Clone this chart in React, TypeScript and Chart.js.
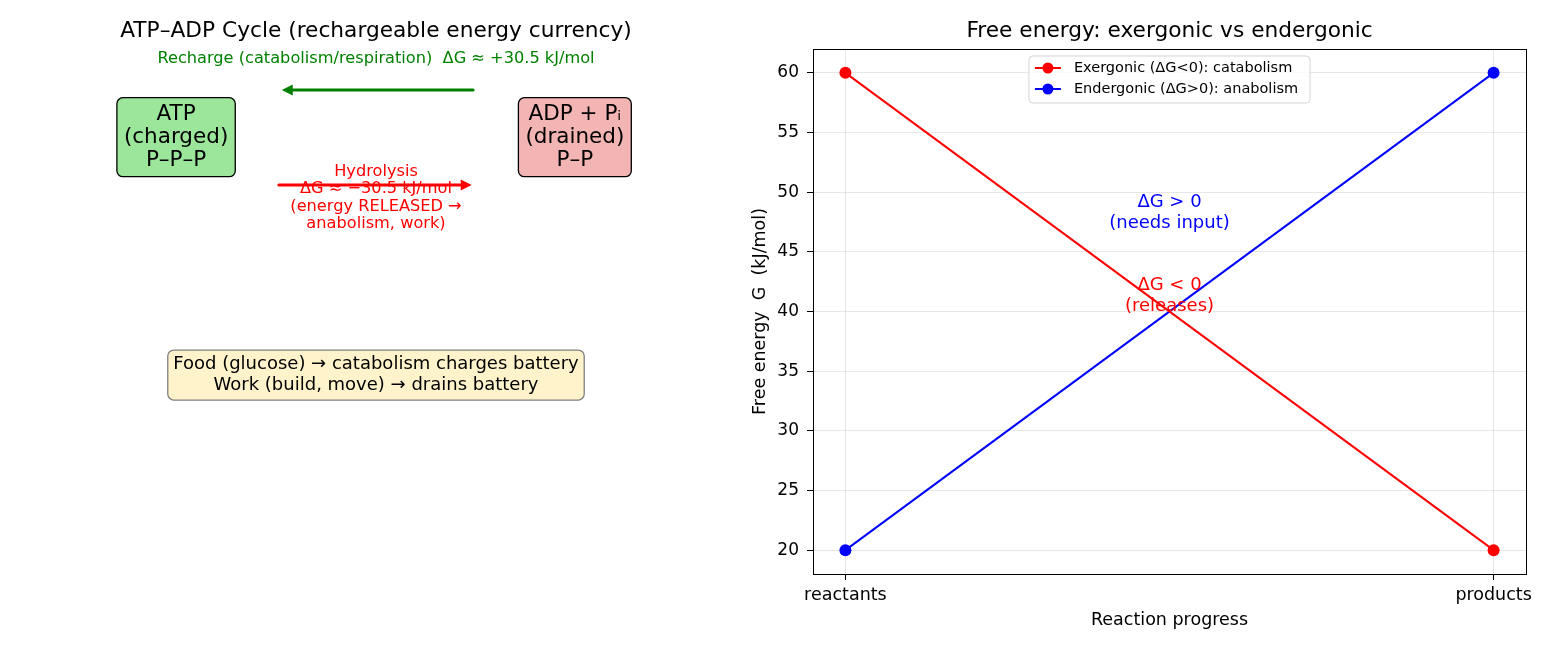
import React, { useEffect, useRef } from "react";
import { Chart, registerables } from "chart.js";

Chart.register(...registerables);

// ---------- data ----------
const stages = ["reactants", "products"];
const stagePositions = [0, 1];
const exergonicG = [60, 20];
const endergonicG = [20, 60];
const yTickValues = [20, 25, 30, 35, 40, 45, 50, 55, 60];
const seriesLabels = ["Exergonic (ΔG<0): catabolism", "Endergonic (ΔG>0): anabolism"];
const seriesColors = ["#ff0000", "#0000ff"];
const noteUp = ["ΔG > 0", "(needs input)"];
const noteDown = ["ΔG < 0", "(releases)"];
const noteUpAt = { x: 0.5, y: 48.3 };
const noteDownAt = { x: 0.5, y: 41.3 };

const FONT = "'DejaVu Sans', 'Liberation Sans', sans-serif";
const f = (s: number) => `${s}px ${FONT}`;

function roundRectPath(ctx: CanvasRenderingContext2D, x: number, y: number, w: number, h: number, r: number) {
  ctx.beginPath();
  ctx.moveTo(x + r, y);
  ctx.lineTo(x + w - r, y);
  ctx.arcTo(x + w, y, x + w, y + r, r);
  ctx.lineTo(x + w, y + h - r);
  ctx.arcTo(x + w, y + h, x + w - r, y + h, r);
  ctx.lineTo(x + r, y + h);
  ctx.arcTo(x, y + h, x, y + h - r, r);
  ctx.lineTo(x, y + r);
  ctx.arcTo(x, y, x + r, y, r);
  ctx.closePath();
}

function textBox(
  ctx: CanvasRenderingContext2D,
  cx: number,
  cy: number,
  lines: string[],
  size: number,
  lineH: number,
  padX: number,
  padY: number,
  fill: string,
  edge: string,
  edgeW: number
) {
  ctx.font = f(size);
  const w = Math.max(...lines.map((l) => ctx.measureText(l).width)) + padX * 2;
  const h = lines.length * lineH + padY * 2;
  roundRectPath(ctx, cx - w / 2, cy - h / 2, w, h, 6);
  ctx.fillStyle = fill;
  ctx.fill();
  ctx.lineWidth = edgeW;
  ctx.strokeStyle = edge;
  ctx.stroke();
  ctx.fillStyle = "#000";
  ctx.textAlign = "center";
  ctx.textBaseline = "middle";
  lines.forEach((l, i) => {
    ctx.fillText(l, cx, cy - ((lines.length - 1) * lineH) / 2 + i * lineH);
  });
}

function arrow(ctx: CanvasRenderingContext2D, x0: number, y0: number, x1: number, y1: number, color: string) {
  const dx = x1 - x0, dy = y1 - y0;
  const len = Math.hypot(dx, dy);
  const ux = dx / len, uy = dy / len;
  const hl = 11, hw = 5.5;
  ctx.strokeStyle = color;
  ctx.fillStyle = color;
  ctx.lineWidth = 3;
  ctx.lineCap = "round";
  ctx.beginPath();
  ctx.moveTo(x0, y0);
  ctx.lineTo(x1 - ux * hl, y1 - uy * hl);
  ctx.stroke();
  ctx.beginPath();
  ctx.moveTo(x1, y1);
  ctx.lineTo(x1 - ux * hl - uy * hw, y1 - uy * hl + ux * hw);
  ctx.lineTo(x1 - ux * hl + uy * hw, y1 - uy * hl - ux * hw);
  ctx.closePath();
  ctx.fill();
}

const diagramPlugin = {
  id: "atpDiagram",
  afterDraw(chart: any) {
    const ctx: CanvasRenderingContext2D = chart.ctx;
    const xs = chart.scales.x, ys = chart.scales.y;
    const px = (v: number) => xs.getPixelForValue(v);
    const py = (v: number) => ys.getPixelForValue(v);
    const ca = chart.chartArea;
    ctx.save();
    // title
    ctx.fillStyle = "#000";
    ctx.font = f(21.7);
    ctx.textAlign = "center";
    ctx.textBaseline = "middle";
    ctx.fillText("ATP–ADP Cycle (rechargeable energy currency)", (ca.left + ca.right) / 2, 31);

    // recharge label + arrow
    ctx.font = f(16.2);
    ctx.fillStyle = "#008000";
    ctx.fillText("Recharge (catabolism/respiration)  ΔG ≈ +30.5 kJ/mol", px(0.5), py(0.981));
    arrow(ctx, px(0.636), py(0.922), px(0.368), py(0.922), "#008000");

    // hydrolysis arrow + label
    arrow(ctx, px(0.364), py(0.741), px(0.634), py(0.741), "#ff0000");
    ctx.font = f(16.2);
    ctx.fillStyle = "#ff0000";
    ctx.textAlign = "center";
    ctx.textBaseline = "middle";
    const red = ["Hydrolysis", "ΔG ≈ −30.5 kJ/mol", "(energy RELEASED →", "anabolism, work)"];
    const rc = py(0.717);
    red.forEach((l, i) => ctx.fillText(l, px(0.5), rc - 1.5 * 17.5 + i * 17.5));

    // boxes
    textBox(ctx, px(0.22), py(0.832), ["ATP", "(charged)", "P–P–P"], 21.5, 23, 7, 5, "#9ce69c", "#000", 1.3);
    textBox(ctx, px(0.7785), py(0.832), ["ADP + Pᵢ", "(drained)", "P–P"], 21.5, 23, 7, 5, "#f3b4b4", "#000", 1.3);
    textBox(
      ctx,
      px(0.5),
      py(0.379),
      ["Food (glucose) → catabolism charges battery", "Work (build, move) → drains battery"],
      18,
      21,
      5.5,
      4,
      "#fff3cc",
      "#808080",
      1.3
    );
    ctx.restore();
  },
};

const frameTitlePlugin = {
  id: "mplFrame",
  afterDatasetsDraw(chart: any) {
    const ctx: CanvasRenderingContext2D = chart.ctx;
    const ca = chart.chartArea;
    const xs = chart.scales.x, ys = chart.scales.y;
    ctx.save();
    // annotations
    ctx.font = f(18);
    ctx.textAlign = "center";
    ctx.textBaseline = "middle";
    const drawNote = (lines: string[], at: { x: number; y: number }, color: string) => {
      ctx.fillStyle = color;
      const cx = xs.getPixelForValue(at.x), cy = ys.getPixelForValue(at.y);
      lines.forEach((l, i) => ctx.fillText(l, cx, cy - ((lines.length - 1) * 21) / 2 + i * 21));
    };
    drawNote(noteUp, noteUpAt, "#0000ff");
    drawNote(noteDown, noteDownAt, "#ff0000");

    // frame
    ctx.strokeStyle = "#000";
    ctx.lineWidth = 1;
    ctx.strokeRect(Math.round(ca.left) + 0.5, Math.round(ca.top) + 0.5, Math.round(ca.right - ca.left), Math.round(ca.bottom - ca.top));

    // title
    ctx.fillStyle = "#000";
    ctx.font = f(21.7);
    ctx.fillText("Free energy: exergonic vs endergonic", (ca.left + ca.right) / 2, 31);

    // legend
    const ds = chart.data.datasets;
    ctx.font = f(14.5);
    const textW = Math.max(...ds.map((d: any) => ctx.measureText(d.label).width));
    const bw = 45 + textW + 12;
    const bh = 47;
    const bx = (ca.left + ca.right) / 2 - bw / 2;
    const by = ca.top + 7;
    roundRectPath(ctx, bx, by, bw, bh, 4);
    ctx.fillStyle = "rgba(255,255,255,0.8)";
    ctx.fill();
    ctx.strokeStyle = "#d5d5d5";
    ctx.lineWidth = 1;
    ctx.stroke();
    ds.forEach((d: any, i: number) => {
      const ry = by + 12 + i * 21;
      ctx.strokeStyle = d.borderColor;
      ctx.lineWidth = 2;
      ctx.beginPath();
      ctx.moveTo(bx + 6, ry);
      ctx.lineTo(bx + 32, ry);
      ctx.stroke();
      ctx.fillStyle = d.borderColor;
      ctx.beginPath();
      ctx.arc(bx + 19, ry, 5.5, 0, Math.PI * 2);
      ctx.fill();
      ctx.fillStyle = "#000";
      ctx.textAlign = "left";
      ctx.fillText(d.label, bx + 45, ry);
    });
    ctx.restore();
  },
};

export default function App() {
  const leftRef = useRef<HTMLCanvasElement>(null);
  const rightRef = useRef<HTMLCanvasElement>(null);

  useEffect(() => {
    Chart.defaults.font.family = FONT;
    const left = new Chart(leftRef.current!, {
      type: "scatter",
      data: { datasets: [] },
      options: {
        animation: false,
        responsive: false,
        devicePixelRatio: 1,
        layout: { padding: { left: 19, right: 7, top: 49, bottom: 76 } },
        scales: {
          x: { type: "linear", min: 0, max: 1, display: false },
          y: { type: "linear", min: 0, max: 1, display: false },
        },
        plugins: { legend: { display: false }, tooltip: { enabled: false } },
      },
      plugins: [diagramPlugin],
    } as any);

    const grid = {
      color: "rgba(176,176,176,0.3)",
      tickColor: "#000",
      tickLength: 6,
      drawTicks: true,
      lineWidth: 1,
    };
    const right = new Chart(rightRef.current!, {
      type: "line",
      data: {
        datasets: [exergonicG, endergonicG].map((vals, i) => ({
          label: seriesLabels[i],
          data: stagePositions.map((x, j) => ({ x, y: vals[j] })),
          borderColor: seriesColors[i],
          backgroundColor: seriesColors[i],
          pointBackgroundColor: seriesColors[i],
          pointBorderColor: seriesColors[i],
          borderWidth: 2,
          pointRadius: 6,
          pointBorderWidth: 0,
          tension: 0,
        })),
      },
      options: {
        animation: false,
        responsive: false,
        devicePixelRatio: 1,
        layout: { padding: { left: 0, right: 34, top: 49, bottom: 0 } },
        scales: {
          x: {
            type: "linear",
            min: -0.05,
            max: 1.05,
            afterBuildTicks: (s: any) => {
              s.ticks = stagePositions.map((v) => ({ value: v }));
            },
            afterFit: (s: any) => {
              s.height = 76;
            },
            ticks: {
              autoSkip: false,
              maxRotation: 0,
              padding: 5,
              color: "#000",
              font: { size: 17.5 },
              callback: (v: any) => stages[stagePositions.indexOf(Number(v))] ?? "",
            },
            grid,
            border: { display: true, color: "#000", width: 1 },
            title: {
              display: true,
              text: "Reaction progress",
              color: "#000",
              font: { size: 17.5 },
              padding: { top: 0, bottom: 19 },
            },
          },
          y: {
            type: "linear",
            min: 18,
            max: 62,
            afterBuildTicks: (s: any) => {
              s.ticks = yTickValues.map((v) => ({ value: v }));
            },
            afterFit: (s: any) => {
              s.width = 73;
            },
            ticks: { padding: 8, color: "#000", font: { size: 17 } },
            grid,
            border: { display: true, color: "#000", width: 1 },
            title: {
              display: true,
              text: "Free energy  G  (kJ/mol)",
              color: "#000",
              font: { size: 17.5 },
              padding: { top: 9.5, bottom: 0 },
            },
          },
        },
        plugins: { legend: { display: false }, tooltip: { enabled: false } },
      },
      plugins: [frameTitlePlugin],
    } as any);

    return () => {
      left.destroy();
      right.destroy();
    };
  }, []);

  return (
    <div style={{ position: "absolute", left: 0, top: 0, width: 1560, height: 650, background: "#fff" }}>
      <canvas ref={leftRef} width={740} height={650} style={{ position: "absolute", left: 0, top: 0, display: "block" }} />
      <canvas ref={rightRef} width={820} height={650} style={{ position: "absolute", left: 740, top: 0, display: "block" }} />
    </div>
  );
}
